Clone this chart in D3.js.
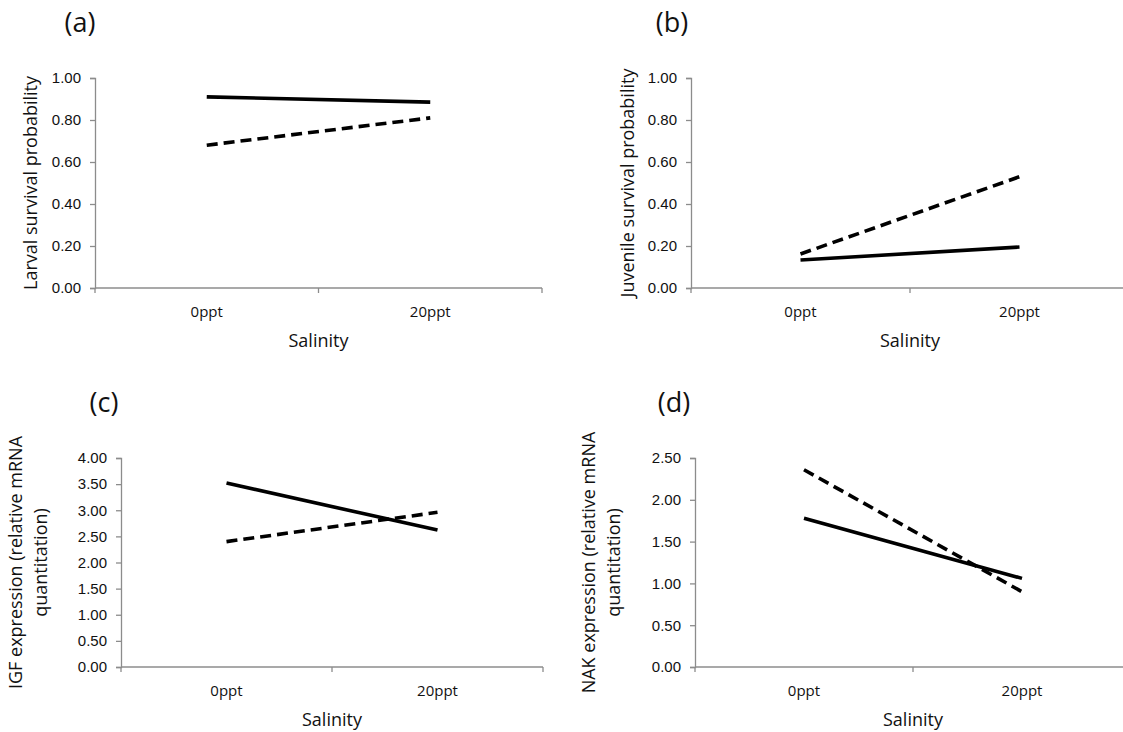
<!DOCTYPE html>
<html>
<head>
<meta charset="utf-8">
<script src="https://cdn.jsdelivr.net/npm/d3@7"></script>
<style>
  body { margin: 0; background: #fff; }
  svg { display: block; font-family: "Open Sans", sans-serif; }
</style>
</head>
<body>
<div id="chart"></div>
<script>
// categories on the x axis
const salinity = ['0ppt', '20ppt'];

// values (solid line / dashed line)
const larvalSolid = [0.91, 0.885];
const larvalDashed = [0.68, 0.81];
const juvenileSolid = [0.133, 0.195];
const juvenileDashed = [0.162, 0.53];
const igfSolid = [3.52, 2.62];
const igfDashed = [2.40, 2.96];
const nakSolid = [1.78, 1.06];
const nakDashed = [2.36, 0.90];

// tick labels
const survivalTicks = [0, 0.2, 0.4, 0.6, 0.8, 1.0];
const igfTicks = [0, 0.5, 1.0, 1.5, 2.0, 2.5, 3.0, 3.5, 4.0];
const nakTicks = [0, 0.5, 1.0, 1.5, 2.0, 2.5];

const svg = d3.select('#chart')
  .append('svg')
  .attr('width', 1123)
  .attr('height', 732);

const axisColor = '#8c8c8c';

const drawPanel = (opt) => {
  const x = d3.scaleBand()
    .domain(salinity)
    .range([opt.left, opt.right])
    .padding(0);

  const y = d3.scaleLinear()
    .domain([0, opt.max])
    .range([opt.bottom, opt.top]);

  const g = svg.append('g');

  // y axis
  const yAxis = g.append('g')
    .attr('transform', `translate(${opt.left},0)`)
    .call(d3.axisLeft(y).tickValues(opt.ticks).tickFormat(d3.format('.2f')).tickSize(5).tickPadding(9));
  yAxis.select('.domain').attr('stroke', axisColor).attr('stroke-width', 1.3);
  yAxis.selectAll('.tick line').attr('stroke', axisColor).attr('stroke-width', 1.3);
  yAxis.selectAll('.tick text').attr('fill', '#111').style('font-size', '15px');

  // x axis: line with ticks at the band boundaries
  g.append('line')
    .attr('x1', opt.left).attr('x2', opt.right)
    .attr('y1', opt.bottom).attr('y2', opt.bottom)
    .attr('stroke', axisColor).attr('stroke-width', 1.3);
  const bounds = [x.range()[0], x(salinity[1]), x.range()[1]];
  g.selectAll('.xtick')
    .data(bounds)
    .enter()
    .append('line')
    .attr('x1', (d) => d).attr('x2', (d) => d)
    .attr('y1', opt.bottom).attr('y2', opt.bottom + 5)
    .attr('stroke', axisColor).attr('stroke-width', 1.3);
  g.selectAll('.xlabel')
    .data(salinity)
    .enter()
    .append('text')
    .attr('x', (d) => x(d) + x.bandwidth() / 2)
    .attr('y', opt.bottom + 29)
    .attr('text-anchor', 'middle')
    .style('font-size', '15px')
    .attr('fill', '#111')
    .text((d) => d);

  g.append('text')
    .attr('x', (opt.left + opt.right) / 2)
    .attr('y', opt.bottom + 59)
    .attr('text-anchor', 'middle')
    .style('font-size', '18px')
    .attr('fill', '#111')
    .text('Salinity');

  // y title (one or two lines)
  const yt = g.append('text')
    .attr('transform', `translate(${opt.titleX},${(opt.top + opt.bottom) / 2}) rotate(-90)`)
    .attr('text-anchor', 'middle')
    .style('font-size', '18px')
    .attr('fill', '#111');
  opt.yTitle.forEach((t, i) => {
    yt.append('tspan')
      .attr('x', 0)
      .attr('dy', i === 0 ? 0 : 25)
      .text(t);
  });

  // panel letter
  g.append('text')
    .attr('x', opt.letterX)
    .attr('y', opt.top - 46)
    .attr('text-anchor', 'middle')
    .style('font-size', '27px')
    .attr('fill', '#111')
    .text(opt.letter);

  const line = d3.line()
    .x((d, i) => x(salinity[i]) + x.bandwidth() / 2)
    .y((d) => y(d));

  g.append('path')
    .datum(opt.solid)
    .attr('d', line)
    .attr('fill', 'none')
    .attr('stroke', '#000')
    .attr('stroke-width', 3.6);

  g.append('path')
    .datum(opt.dashed)
    .attr('d', line)
    .attr('fill', 'none')
    .attr('stroke', '#000')
    .attr('stroke-width', 3.6)
    .attr('stroke-dasharray', '11,6');
};

drawPanel({
  left: 95, right: 542, top: 78, bottom: 288, max: 1, ticks: survivalTicks,
  solid: larvalSolid, dashed: larvalDashed,
  yTitle: ['Larval survival probability'], titleX: 37, letter: '(a)', letterX: 80
});

drawPanel({
  left: 691, right: 1129, top: 78, bottom: 288, max: 1, ticks: survivalTicks,
  solid: juvenileSolid, dashed: juvenileDashed,
  yTitle: ['Juvenile survival probability'], titleX: 634, letter: '(b)', letterX: 672
});

drawPanel({
  left: 121, right: 543, top: 458, bottom: 667, max: 4, ticks: igfTicks,
  solid: igfSolid, dashed: igfDashed,
  yTitle: ['IGF expression (relative mRNA', 'quantitation)'], titleX: 22, letter: '(c)', letterX: 104
});

drawPanel({
  left: 695, right: 1131, top: 458, bottom: 667, max: 2.5, ticks: nakTicks,
  solid: nakSolid, dashed: nakDashed,
  yTitle: ['NAK expression (relative mRNA', 'quantitation)'], titleX: 595, letter: '(d)', letterX: 674
});
</script>
</body>
</html>
